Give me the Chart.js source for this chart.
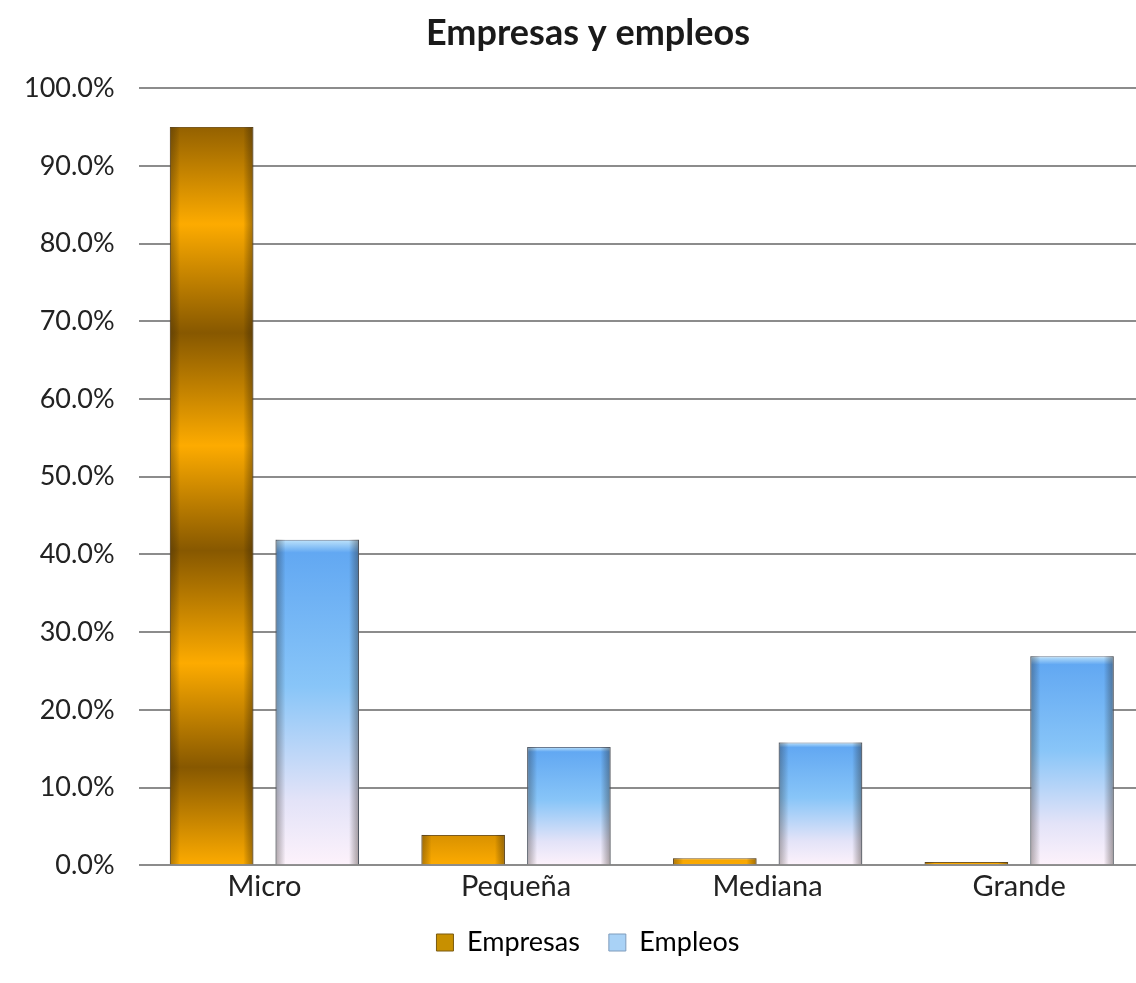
<!DOCTYPE html>
<html>
<head>
<meta charset="utf-8">
<script src="https://cdn.jsdelivr.net/npm/chart.js@4"></script>
<style>
  html, body { margin: 0; padding: 0; background: #fff; overflow: hidden; }
  #wrap { width: 1176px; height: 983px; }
</style>
</head>
<body>
<div id="wrap"><canvas id="chart"></canvas></div>
<script>
"use strict";

const categories = ["Micro", "Pequeña", "Mediana", "Grande"];
const empresas = [95.0, 3.9, 0.9, 0.4];
const empleos = [41.9, 15.2, 15.8, 26.9];
const yTicks = [0, 10, 20, 30, 40, 50, 60, 70, 80, 90, 100];

const FONT = "Lato, 'Open Sans', sans-serif";

// banded gold fill, fixed to the plot (value stops)
function goldFill(context) {
  const chart = context.chart;
  const area = chart.chartArea;
  if (!area) return "#e09a00";
  const y = chart.scales.y;
  const top = y.getPixelForValue(100);
  const bottom = y.getPixelForValue(0);
  const g = chart.ctx.createLinearGradient(0, bottom, 0, top);
  const light = "#fdab00";
  const dark = "#875800";
  const bands = [[0, light], [12.6, dark], [26, light], [40.5, dark], [54, light], [68.5, dark], [82.5, light], [96.5, dark], [100, "#9a6a10"]];
  bands.forEach(([v, c]) => g.addColorStop(v / 100, c));
  return g;
}

// blue to pale pink, per bar
function blueFill(context) {
  const chart = context.chart;
  if (!chart.chartArea || context.dataIndex === undefined) return "#9fc8f2";
  const y = chart.scales.y;
  const value = context.dataset.data[context.dataIndex];
  const top = y.getPixelForValue(value);
  const bottom = y.getPixelForValue(0);
  const g = chart.ctx.createLinearGradient(0, top, 0, bottom);
  g.addColorStop(0, "#bfe4fb");
  g.addColorStop(0.04, "#62a8f2");
  g.addColorStop(0.45, "#88c5f8");
  g.addColorStop(0.8, "#e3e3f8");
  g.addColorStop(1, "#fdf2fb");
  return g;
}

// darker side edges for a rounded look
const edgeShade = {
  id: "edgeShade",
  afterDatasetsDraw(chart) {
    const ctx = chart.ctx;
    chart.data.datasets.forEach((ds, i) => {
      const meta = chart.getDatasetMeta(i);
      meta.data.forEach((bar) => {
        const { x, y, base, width } = bar.getProps(["x", "y", "base", "width"], true);
        const left = x - width / 2;
        const g = ctx.createLinearGradient(left, 0, left + width, 0);
        g.addColorStop(0, "rgba(40,30,20,0.35)");
        g.addColorStop(0.12, "rgba(0,0,0,0)");
        g.addColorStop(0.88, "rgba(0,0,0,0)");
        g.addColorStop(1, "rgba(40,30,20,0.4)");
        ctx.save();
        ctx.fillStyle = g;
        ctx.fillRect(left, y, width, base - y);
        ctx.restore();
      });
    });
  }
};

new Chart(document.getElementById("chart"), {
  type: "bar",
  data: {
    labels: categories,
    datasets: [
      {
        label: "Empresas",
        data: empresas,
        backgroundColor: goldFill,
        borderColor: "#7a5a20",
        borderWidth: 1,
        categoryPercentage: 0.84,
        barPercentage: 0.79
      },
      {
        label: "Empleos",
        data: empleos,
        backgroundColor: blueFill,
        borderColor: "#6a7a90",
        borderWidth: 1,
        categoryPercentage: 0.84,
        barPercentage: 0.79
      }
    ]
  },
  options: {
    responsive: true,
    maintainAspectRatio: false,
    animation: false,
    layout: { padding: { left: 0, right: 0, top: 6, bottom: 17 } },
    plugins: {
      title: {
        display: true,
        text: "Empresas y empleos",
        color: "#1a1a1a",
        font: { family: FONT, size: 36, weight: "bold" },
        padding: { top: 6, bottom: 33 }
      },
      legend: {
        position: "bottom",
        labels: {
          color: "#222",
          font: { family: FONT, size: 27 },
          boxWidth: 17,
          boxHeight: 17,
          padding: 29,
          generateLabels: () => [
            { text: "Empresas", fillStyle: "#c89000", strokeStyle: "#7a5a10", lineWidth: 1, datasetIndex: 0 },
            { text: "Empleos", fillStyle: "#a9d2f6", strokeStyle: "#7f9cbc", lineWidth: 1, datasetIndex: 1 }
          ]
        }
      },
      tooltip: { enabled: false }
    },
    scales: {
      x: {
        grid: { display: false },
        border: { display: false },
        ticks: { color: "#222", font: { family: FONT, size: 29 }, padding: -4 }
      },
      y: {
        min: 0,
        max: 100,
        afterBuildTicks: (axis) => { axis.ticks = yTicks.map((v) => ({ value: v })); },
        grid: { color: "#8c8c8c", lineWidth: 2, drawTicks: false },
        border: { display: false },
        ticks: {
          color: "#222",
          font: { family: FONT, size: 27 },
          padding: 24,
          callback: (v) => v.toFixed(1) + "%"
        }
      },
      // empty spacer on the right so the plot stops where the picture is cut
      spacer: {
        type: "linear",
        position: "right",
        display: true,
        grid: { display: false },
        border: { display: false },
        ticks: { display: false },
        afterFit: (axis) => { axis.width = 31; }
      }
    }
  },
  plugins: [edgeShade]
});
</script>
</body>
</html>
